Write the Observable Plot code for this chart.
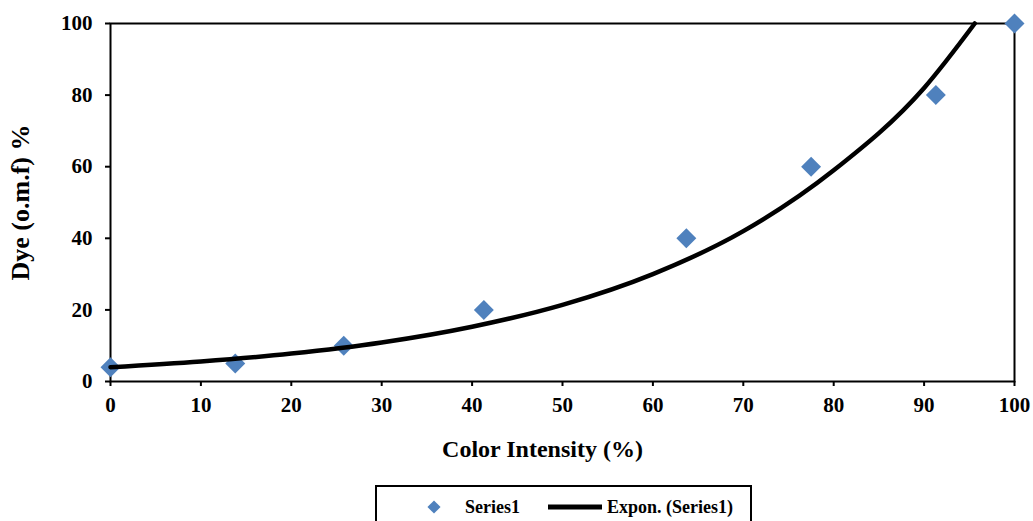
<!DOCTYPE html>
<html><head><meta charset="utf-8">
<script src="https://cdn.jsdelivr.net/npm/d3@7"></script>
<script src="https://cdn.jsdelivr.net/npm/@observablehq/plot@0.6"></script>
<style>
html,body{margin:0;padding:0;background:#fff;overflow:hidden;}
body{font-family:"Liberation Serif","Times New Roman",serif;font-weight:bold;color:#000;position:relative;width:1033px;height:521px;}
#legend{position:absolute;left:375px;top:485px;width:377px;height:44px;border:2px solid #000;box-sizing:border-box;display:flex;align-items:flex-start;padding-top:9px;padding-left:49px;font-size:18px;}
#legend .item{display:flex;align-items:center;}
#legend svg{display:block;}
</style></head><body>
<div id="chart"></div>
<div id="legend"></div>
<script>
// Data
const intensity = [0, 13.8, 25.8, 41.3, 63.7, 77.5, 91.3, 100];
const dye = [4, 5, 10, 20, 40, 60, 80, 100];
// Exponential trendline, values
const trendX = [0, 10, 20, 30, 40, 50, 60, 70, 80, 90, 95.6];
const trendY = [4, 5.6, 7.8, 10.9, 15.3, 21.4, 30, 42, 59, 82, 100];
const xTicks = [0, 10, 20, 30, 40, 50, 60, 70, 80, 90, 100];
const yTicks = [0, 20, 40, 60, 80, 100];
const seriesNames = ["Series1", "Expon. (Series1)"];
const xLabel = "Color Intensity (%)";
const yLabel = "Dye (o.m.f) %";

const points = intensity.map((x, i) => ({x, y: dye[i]}));
const trend = trendX.map((x, i) => ({x, y: trendY[i]}));
const blue = "#4F81BD";

const chart = Plot.plot({
  width: 1033,
  height: 485,
  marginLeft: 110,
  marginRight: 19,
  marginTop: 23,
  marginBottom: 104,
  style: {fontFamily: '"Liberation Serif","Times New Roman",serif', fontWeight: "bold", fontSize: "21px", color: "#000", background: "#fff"},
  x: {domain: [0, 100]},
  y: {domain: [0, 100]},
  marks: [
    Plot.axisX({ticks: xTicks, tickSize: 5, tickPadding: 11, label: null, stroke: "#000", strokeWidth: 2, fontSize: 21}),
    Plot.axisY({ticks: yTicks, tickSize: 5, tickPadding: 13, label: null, stroke: "#000", strokeWidth: 2, fontSize: 21}),
    Plot.frame({stroke: "#000", strokeWidth: 2}),
    Plot.dot(points, {x: "x", y: "y", symbol: "diamond2", r: 9, fill: blue, stroke: "none"}),
    Plot.line(trend, {x: "x", y: "y", stroke: "#000", strokeWidth: 4.5, curve: "monotone-x"}),
    Plot.text([xLabel], {frameAnchor: "bottom", dy: 75, dx: -20, fontSize: 24, fontWeight: "bold", fill: "#000"}),
    Plot.text([yLabel], {frameAnchor: "left", textAnchor: "middle", dx: -90, rotate: -90, fontSize: 26, fontWeight: "bold", fill: "#000"})
  ]
});
document.getElementById("chart").appendChild(chart);

const legend = d3.select("#legend");
const it1 = legend.append("div").attr("class", "item");
const s1 = it1.append("svg").attr("width", 16).attr("height", 22);
s1.append("path").attr("d", d3.symbol(d3.symbolDiamond2, 110)()).attr("transform", "translate(8,11)").attr("fill", blue);
it1.append("span").style("margin-left", "23px").text(seriesNames[0]);
const it2 = legend.append("div").attr("class", "item").style("margin-left", "28px");
const s2 = it2.append("svg").attr("width", 56).attr("height", 22);
s2.append("line").attr("x1", 0).attr("x2", 54).attr("y1", 11).attr("y2", 11).attr("stroke", "#000").attr("stroke-width", 5);
it2.append("span").style("margin-left", "3px").text(seriesNames[1]);
</script>
</body></html>
